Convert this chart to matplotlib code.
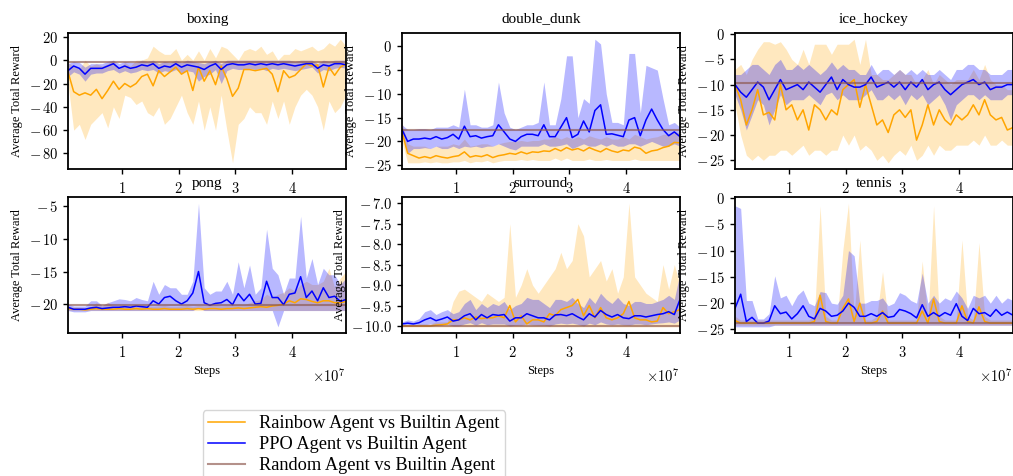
import numpy as np
import matplotlib
matplotlib.use("Agg")
import matplotlib.pyplot as plt
from matplotlib.ticker import FuncFormatter, MultipleLocator

plt.rcParams['font.family'] = ['Liberation Serif', 'DejaVu Serif']
plt.rcParams['mathtext.fontset'] = 'cm'

games = ['boxing', 'double_dunk', 'ice_hockey', 'pong', 'surround', 'tennis']

# 50 evaluation points, 0.05e7 .. 4.95e7 steps
steps = [0.05e7 + 0.1e7 * k for k in range(50)]

# ---- boxing ----
boxing_rb = [-10, -27, -30, -28, -30, -25, -33, -26, -18, -25,
             -20, -23, -20, -14, -12, -22, -9, -14, -10, -6,
             -12, -9, -26, -6, -18, -9, -21, -5, -16, -31,
             -24, -8, -8, -9, -8, -7, -12, -27, -9, -15,
             -13, -8, -3, -5, -4, -23, -6, -13, -6, -3]
boxing_rb_lo = [-20, -60, -55, -68, -55, -50, -45, -58, -40, -50,
                -30, -32, -38, -35, -45, -48, -40, -55, -50, -40,
                -30, -45, -55, -35, -60, -40, -60, -30, -60, -88,
                -55, -50, -40, -45, -45, -55, -35, -50, -35, -55,
                -40, -30, -25, -30, -40, -60, -35, -45, -40, -30]
boxing_rb_hi = [-2, -5, -8, 0, -5, -3, -5, -3, 0, -8,
                -2, -5, 0, 0, 2, 12, 8, 5, 5, 10,
                0, 5, 0, 8, 0, 10, 2, 12, 10, 5,
                0, 8, 10, 8, 12, 5, 8, 0, 5, 5,
                10, 8, 10, 12, 8, 10, 15, 12, 18, 12]
boxing_ppo = [-9, -5, -7, -12, -7, -7, -7, -5, -3, -7,
              -5, -7, -6, -4, -5, -3, -7, -5, -6, -3,
              -6, -4, -5, -6, -8, -5, -3, -8, -4, -3,
              -4, -4, -3, -4, -3, -4, -3, -4, -3, -4,
              -5, -4, -3, -3, -7, -4, -5, -3, -3, -4]
boxing_ppo_lo = [-14, -10, -12, -18, -12, -11, -11, -9, -8, -11,
                 -9, -11, -10, -8, -9, -8, -11, -9, -10, -8,
                 -11, -9, -10, -18, -14, -12, -8, -20, -9, -7,
                 -8, -8, -7, -8, -7, -9, -7, -8, -7, -8,
                 -9, -8, -7, -6, -11, -8, -9, -7, -6, -7]
boxing_ppo_hi = [-3, -1, -2, -6, -3, -3, -3, -1, 0, -3,
                 -1, -2, -2, 0, -1, 0, -3, -1, -2, 0,
                 -2, 0, -1, -2, -3, -1, 0, -3, 0, 0,
                 0, 0, 0, 0, 0, 0, 0, 0, 0, 0,
                 -1, 0, 0, 0, -3, 0, -1, 0, 0, 0]

# ---- double_dunk ----
dd_rb = [-18, -22.5, -23, -23.5, -23.2, -23.5, -23, -23.3, -23.5, -23.2,
         -23, -22.2, -23.3, -23, -23.2, -22.8, -23.4, -23, -22.8, -22.5,
         -22.7, -22.2, -22.6, -22.2, -22.3, -22, -22.1, -21.5, -22, -21.3,
         -21.8, -21.5, -22, -21.3, -21.8, -22.2, -21.5, -22, -22.3, -21.8,
         -22, -21.2, -21.5, -22.5, -22, -21.8, -21.3, -21, -20.2, -20.3]
dd_rb_lo = [-20, -24.5, -24.5, -24.5, -24.3, -24.5, -24.3, -24.5, -24.5, -24.3,
            -24.3, -24, -24.5, -24.2, -24.3, -24, -24.5, -24.2, -24, -24,
            -24, -23.8, -24, -23.8, -24, -24, -24, -23.5, -24, -23.5,
            -24, -24, -24, -23.7, -24, -24, -23.8, -24, -24, -24,
            -24, -23.7, -24, -24, -24, -24, -24, -24, -24, -24]
dd_rb_hi = [-16, -20.5, -21, -21, -21, -21.5, -21, -21, -21, -20.5,
            -20.8, -19.5, -21, -20.8, -20.5, -20.5, -21, -20.5, -20.2, -20,
            -20, -19.8, -20, -19.8, -19.8, -19.5, -19.5, -19, -19.5, -19,
            -19.5, -19, -19.5, -18.8, -19.2, -19.5, -19, -19.5, -19.5, -19,
            -19.5, -18.5, -19, -19.5, -19.2, -19, -18.5, -18.5, -18, -18.2]
dd_ppo = [-17.5, -20, -19.5, -19.5, -19.3, -19.5, -19, -19.5, -19.2, -18.5,
          -19.5, -16.8, -19, -18.8, -19.3, -19, -18.8, -16.5, -18, -19.5,
          -20, -19, -18.5, -18.5, -18.8, -16.5, -19, -19, -17, -15,
          -19.2, -18.5, -15.7, -18, -13.5, -12.3, -18.5, -18.4, -18.7, -19,
          -15.5, -15, -18.8, -15.5, -13.2, -15.5, -17.5, -18.8, -18, -19]
dd_ppo_lo = [-18.5, -22.5, -21.5, -21.5, -21.3, -21.5, -21, -21.5, -21.5, -21,
             -21.5, -21, -21.2, -21, -21.3, -21, -21, -20.5, -21, -21.5,
             -21.8, -21, -21, -21, -21, -20.5, -21, -21, -20.8, -20.5,
             -21.5, -21, -20.5, -21, -21, -20.5, -21, -20.5, -21, -21,
             -20.5, -20.5, -21, -20.5, -20, -20.5, -21, -21, -20.5, -21]
dd_ppo_hi = [-16.5, -17.5, -17.5, -17.3, -17.3, -17.5, -17, -17, -17, -16.5,
             -17, -9, -16.5, -16.5, -17, -17, -16.5, -7.5, -14, -17,
             -17.5, -17, -16.5, -16.5, -16, -7.5, -16.5, -16.5, -11, -2,
             -2, -15, -11, -12, 1.5, 0.5, -10, -16, -16, -16.5,
             -1.5, -1.5, -14, -4, -4.5, -5, -11, -16.5, -16, -17]

# ---- ice_hockey ----
ih_rb = [-10, -13, -18, -15, -11, -16, -15.5, -17, -10, -15,
         -14, -17, -15, -19, -14, -15, -17, -15, -16, -11,
         -10, -9, -14.5, -10, -14, -18, -17, -19.5, -16, -15,
         -16.5, -15, -21, -18, -14, -18, -15, -17, -18, -16,
         -17, -16, -14, -16, -13, -16, -17, -16.5, -19, -18.5]
ih_rb_lo = [-14, -20, -24, -25, -24, -25, -24, -24, -23, -23,
            -24, -23, -22, -24, -23, -23, -24, -23, -23, -20,
            -22, -20, -23, -22, -23, -25, -24, -25.5, -24, -23,
            -24, -22, -25, -24, -22, -24, -22, -23, -23, -22,
            -22, -22, -21, -22, -20, -22, -22, -21, -22, -22]
ih_rb_hi = [-7, -6, -8, -5, -3, -1.5, -1.5, -2, -1.5, -3,
            -5, -6, -3, -6, -2, -2, -2, -4, -2, -2,
            -2, -1, -6, -1, -8, -8, -9, -9, -8, -7,
            -8, -8, -10, -9, -7, -10, -8, -9, -10, -9,
            -9, -9, -7, -9, -6, -9, -10, -10, -11, -11]
ih_ppo = [-10, -11.5, -12.5, -11, -9.5, -10.5, -13, -11, -9, -11,
          -10.5, -10, -11, -9.5, -10.5, -11.5, -10, -8.5, -11, -9,
          -10, -10.5, -10.5, -10, -8.5, -10.5, -10, -9.5, -10.5, -9.5,
          -11, -9.5, -10.5, -9, -11, -10, -9.5, -11, -12, -11,
          -10, -9.5, -9, -10, -9.5, -11, -10.5, -10.5, -10, -10]
ih_ppo_lo = [-12, -15, -19, -16, -13, -14, -18, -15, -12, -14,
             -13, -13, -13, -12, -13, -14, -12, -11.5, -13, -12,
             -13, -13, -13, -12, -11, -13, -13, -12, -13, -12,
             -14, -12, -13, -12, -14, -13, -12, -14, -17, -14,
             -13, -12, -12, -13, -12, -13, -13, -13, -12, -12]
ih_ppo_hi = [-8, -8, -7, -6, -6, -7, -8, -6, -5, -7,
             -7, -6, -7, -6, -7, -8, -7, -5.5, -7, -6,
             -7, -7, -8, -8, -6, -8, -7, -7, -8, -7,
             -8, -7, -8, -7, -8, -8, -7, -8, -9, -7,
             -7, -6, -6, -7, -7, -8, -8, -8, -7, -7]

# ---- pong ----
pong_rb = [-20.7, -20.8, -20.8, -20.9, -20.8, -20.7, -20.8, -20.8, -20.8, -20.7,
           -20.8, -20.8, -20.7, -20.8, -20.7, -20.8, -20.8, -20.7, -20.8, -20.8,
           -20.8, -20.7, -20.8, -20.7, -20.8, -20.7, -20.7, -20.8, -20.7, -20.7,
           -20.6, -20.7, -20.6, -20.5, -20.4, -20.5, -20.3, -20.2, -20, -19.5,
           -19.8, -19.2, -19.3, -19.6, -19.8, -19.5, -19.5, -19.8, -19.8, -19.6]
pong_rb_lo = [-21.0] * 50
pong_rb_hi = [-20.4, -20.5, -20.5, -20.6, -20.4, -19.8, -20.3, -19.7, -20.4, -20.3,
              -20.4, -20.4, -20.3, -20.4, -20.3, -20.4, -20.3, -20.2, -20.4, -20.4,
              -20.3, -20.2, -20.4, -20.2, -20.3, -20.2, -20.1, -20.3, -20.2, -20.1,
              -20, -20.1, -19.8, -19.5, -19.3, -18.5, -19, -18.5, -18.2, -17.5,
              -18, -17, -16.5, -17, -17, -16.5, -14.5, -17.5, -16, -15]
pong_ppo = [-20.5, -20.8, -20.8, -20.8, -20.6, -20.5, -20.7, -20.6, -20.5, -20.5,
            -20.4, -20.5, -20.3, -20.4, -20.5, -19.5, -20, -19, -18.8, -19.5,
            -20, -19.5, -18.3, -15, -19.8, -20.2, -19.9, -19.8, -19.3, -20.1,
            -18.4, -19.5, -18.5, -20, -19.9, -16.5, -19, -19, -20.1, -18.5,
            -18.3, -15.8, -19, -18, -19.5, -17.5, -19, -18.8, -19.6, -19.3]
pong_ppo_lo = [-21, -21.2, -21.2, -21.2, -21, -21, -21, -21, -21, -21,
               -21, -21, -21, -21, -21, -21, -21, -21, -21, -21,
               -21, -21, -21, -20.5, -21, -21, -21, -21, -21, -21,
               -21, -21, -21, -21, -21, -21, -21, -23.5, -21, -21,
               -21, -21, -21, -21, -21, -21, -21, -21, -21, -21]
pong_ppo_hi = [-20, -20.3, -20.3, -20.3, -19.5, -19.5, -20.2, -19.8, -19.5, -19.2,
               -19.3, -19.5, -19, -19.3, -19.5, -16.5, -18.5, -17, -17.5, -17.5,
               -18.5, -18.5, -16.5, -4.5, -17.5, -18.5, -18, -18, -16.5, -18.5,
               -13.5, -17.5, -14, -18.5, -17.5, -8.5, -14.5, -15.5, -18.5, -16,
               -16, -6.5, -16, -13, -17, -14.5, -15.5, -15.5, -17, -16]

# ---- surround ----
sur_rb = [-10, -10, -10, -10, -10, -10, -9.98, -9.97, -9.95, -9.85,
          -9.85, -9.8, -9.85, -9.78, -9.82, -9.8, -9.8, -9.75, -9.8, -9.5,
          -9.9, -9.75, -9.95, -9.85, -9.85, -9.9, -9.7, -9.75, -9.6, -9.55,
          -9.5, -9.35, -9.75, -9.5, -9.8, -9.55, -9.8, -9.85, -9.8, -9.7,
          -9.4, -9.8, -9.85, -9.85, -9.9, -9.88, -9.55, -9.7, -9.65, -9.6]
sur_rb_lo = [-10.02] * 50
sur_rb_hi = [-10, -10, -9.98, -9.95, -9.95, -9.95, -9.9, -9.9, -9.9, -9.4,
             -9.15, -9.1, -9.2, -9.3, -9.4, -9.2, -9.3, -9.4, -9.3, -7.5,
             -9.3, -9, -8.6, -9, -9.2, -9, -8.8, -8.6, -8.2, -8.6,
             -8.4, -7.5, -7.8, -8.8, -8.6, -8.4, -8.9, -8.6, -9.2, -8.8,
             -7.0, -8.8, -9.0, -9.2, -9.3, -9.4, -8.5, -9.1, -8.5, -9.0]
sur_ppo = [-9.95, -9.93, -9.95, -9.92, -9.85, -9.8, -9.87, -9.83, -9.78, -9.88,
           -9.85, -9.75, -9.7, -9.85, -9.72, -9.8, -9.72, -9.74, -9.72, -9.88,
           -9.8, -9.8, -9.7, -9.75, -9.8, -9.8, -9.85, -9.73, -9.72, -9.75,
           -9.7, -9.78, -9.85, -9.7, -9.78, -9.62, -9.72, -9.78, -9.72, -9.8,
           -9.82, -9.75, -9.75, -9.78, -9.75, -9.72, -9.7, -9.65, -9.72, -9.35]
sur_ppo_lo = [-10.02, -10, -10, -10, -9.97, -9.95, -9.98, -9.97, -9.95, -10,
              -10, -9.95, -9.92, -9.98, -9.92, -9.97, -9.95, -9.95, -9.95, -10,
              -9.98, -9.98, -9.95, -9.97, -9.98, -9.98, -10, -9.95, -9.93, -9.95,
              -9.93, -9.96, -10, -9.93, -9.97, -9.9, -9.95, -9.97, -9.95, -9.97,
              -9.98, -9.95, -9.95, -9.97, -9.95, -9.93, -9.92, -9.9, -9.93, -9.85]
sur_ppo_hi = [-9.9, -9.85, -9.88, -9.82, -9.65, -9.6, -9.72, -9.65, -9.6, -9.7,
              -9.65, -9.45, -9.35, -9.6, -9.45, -9.55, -9.45, -9.5, -9.4, -9.6,
              -9.5, -9.45, -9.3, -9.35, -9.35, -9.45, -9.55, -9.35, -9.35, -9.4,
              -9.3, -9.45, -9.55, -9.3, -9.45, -9.2, -9.35, -9.45, -9.3, -9.45,
              -9.5, -9.4, -9.4, -9.45, -9.45, -9.4, -9.35, -9.25, -9.35, -8.7]

# ---- tennis ----
ten_rb = [-23.3, -23.8, -23.8, -23.8, -23.8, -23.8, -23.8, -23.8, -23.8, -23.8,
          -23.8, -23.8, -23.8, -23.8, -23.5, -18.5, -23.5, -23.8, -23.8, -21,
          -19.2, -23.5, -20, -23.8, -23.8, -23.5, -21.5, -23.8, -23.8, -23.8,
          -23.8, -23.8, -23.8, -21.5, -23.8, -19.2, -23.5, -23.8, -23.8, -23.8,
          -20.5, -23.5, -23.8, -20.7, -23.5, -23.8, -23.8, -23.8, -23.8, -23.8]
ten_rb_lo = [-24.2] * 50
ten_rb_hi = [-22.5, -23.2, -23.2, -23.2, -23.2, -23.2, -23.2, -23.2, -23.2, -23.2,
             -23.2, -23.2, -23.2, -23.2, -22.5, -1.5, -22.5, -23.2, -23.2, -10,
             -1, -22.5, -8, -23.2, -23.2, -22.5, -14, -23.2, -23.2, -23.2,
             -23.2, -23.2, -23.2, -12, -23.2, -1.5, -22.5, -23.2, -23.2, -23.2,
             -8, -22.5, -23.2, -8.5, -22.5, -23.2, -23.2, -23.2, -23.2, -23.2]
ten_ppo = [-21, -18.3, -23.5, -22.7, -23.8, -23.8, -23.4, -20.5, -22, -21.7,
           -23, -22, -20.5, -22.5, -23, -21, -21.5, -22.5, -22.3, -21.5,
           -20, -20.8, -22.5, -22.5, -22, -22.5, -21.8, -22.7, -22.5, -21.2,
           -21.5, -22, -22.8, -20.3, -22.5, -21.8, -22.5, -21.8, -22.3, -20.1,
           -22.5, -23.3, -21, -22, -21.8, -22.5, -21.2, -22.3, -21.7, -22.3]
ten_ppo_lo = [-24.5] * 7 + [-24.2] * 43
ten_ppo_hi = [-1.5, -2, -19.5, -19.5, -23, -23, -22, -14.8, -19, -18.5,
              -20.5, -18.5, -17.5, -20, -20.5, -17.8, -18, -20, -20.2, -18.5,
              -10, -11, -20, -20, -19.5, -19.5, -19, -20.5, -20, -18,
              -18.5, -19.5, -20, -14.3, -20, -18.5, -20, -19, -19.5, -17.7,
              -19, -21, -18.5, -19, -18.5, -20, -18.5, -20, -19, -19.5]

random_level = [-1.2, -17.5, -9.7, -20.15, -10.0, -23.8]
y_step = [20, 5, 5, 5, 0.5, 5]

rainbow = [boxing_rb, dd_rb, ih_rb, pong_rb, sur_rb, ten_rb]
rainbow_lo = [boxing_rb_lo, dd_rb_lo, ih_rb_lo, pong_rb_lo, sur_rb_lo, ten_rb_lo]
rainbow_hi = [boxing_rb_hi, dd_rb_hi, ih_rb_hi, pong_rb_hi, sur_rb_hi, ten_rb_hi]
ppo = [boxing_ppo, dd_ppo, ih_ppo, pong_ppo, sur_ppo, ten_ppo]
ppo_lo = [boxing_ppo_lo, dd_ppo_lo, ih_ppo_lo, pong_ppo_lo, sur_ppo_lo, ten_ppo_lo]
ppo_hi = [boxing_ppo_hi, dd_ppo_hi, ih_ppo_hi, pong_ppo_hi, sur_ppo_hi, ten_ppo_hi]


def cm_label(fmt):
    # computer-modern tick labels like the latex original
    return FuncFormatter(lambda v, p: '$' + (fmt % v).replace('-', '-\\,') + '$')


fig = plt.figure(figsize=(10.13, 4.76), dpi=100)

W, H = 1013, 476
col_left = [68, 402, 735]
row_top = [33, 197]
ax_w, ax_h = 278, 136

x = np.array(steps)
for i, game in enumerate(games):
    r, c = divmod(i, 3)
    ax = fig.add_axes([col_left[c] / W, 1 - (row_top[r] + ax_h) / H, ax_w / W, ax_h / H])

    ax.fill_between(x, rainbow_lo[i], rainbow_hi[i], color='orange', alpha=0.25, lw=0)
    ax.plot(x, rainbow[i], color='orange', lw=1.1, label='Rainbow Agent vs Builtin Agent')
    ax.fill_between(x, ppo_lo[i], ppo_hi[i], color='blue', alpha=0.28, lw=0)
    ax.plot(x, ppo[i], color='blue', lw=1.1, label='PPO Agent vs Builtin Agent')
    ax.plot(x, [random_level[i]] * len(x), color='#8c564b', alpha=0.65, lw=1.5,
            label='Random Agent vs Builtin Agent')

    ax.set_xlim(0.05e7, 4.95e7)
    ax.set_xticks([1e7, 2e7, 3e7, 4e7])
    ax.xaxis.set_major_formatter(FuncFormatter(lambda v, p: '$%g$' % (v / 1e7)))
    ax.yaxis.set_major_locator(MultipleLocator(y_step[i]))
    ax.yaxis.set_major_formatter(cm_label('%.1f' if y_step[i] < 1 else '%g'))
    ax.set_title(game, fontsize=11, pad=7.5)
    ax.set_ylabel('Average Total Reward', fontsize=9)
    if r == 1:
        ax.set_xlabel('Steps', fontsize=9, labelpad=4)
        ax.text(1.0, -0.25, r'$\times 10^{7}$', transform=ax.transAxes,
                ha='right', va='top', fontsize=10.5)
    ax.tick_params(labelsize=10.5, direction='out', length=3.5, width=1)
    ax.tick_params(axis='x', pad=5)
    for s in ax.spines.values():
        s.set_linewidth(1.3)

handles, labels = ax.get_legend_handles_labels()
leg = fig.legend(handles, labels, loc='upper left', bbox_to_anchor=(0.2, 0.139),
                 fontsize=13.2, frameon=True, borderaxespad=0, handlelength=2,
                 labelspacing=0.22, borderpad=0.3, fancybox=True)
leg.get_frame().set_edgecolor('#cccccc')

fig.savefig('out.png', dpi=100)
